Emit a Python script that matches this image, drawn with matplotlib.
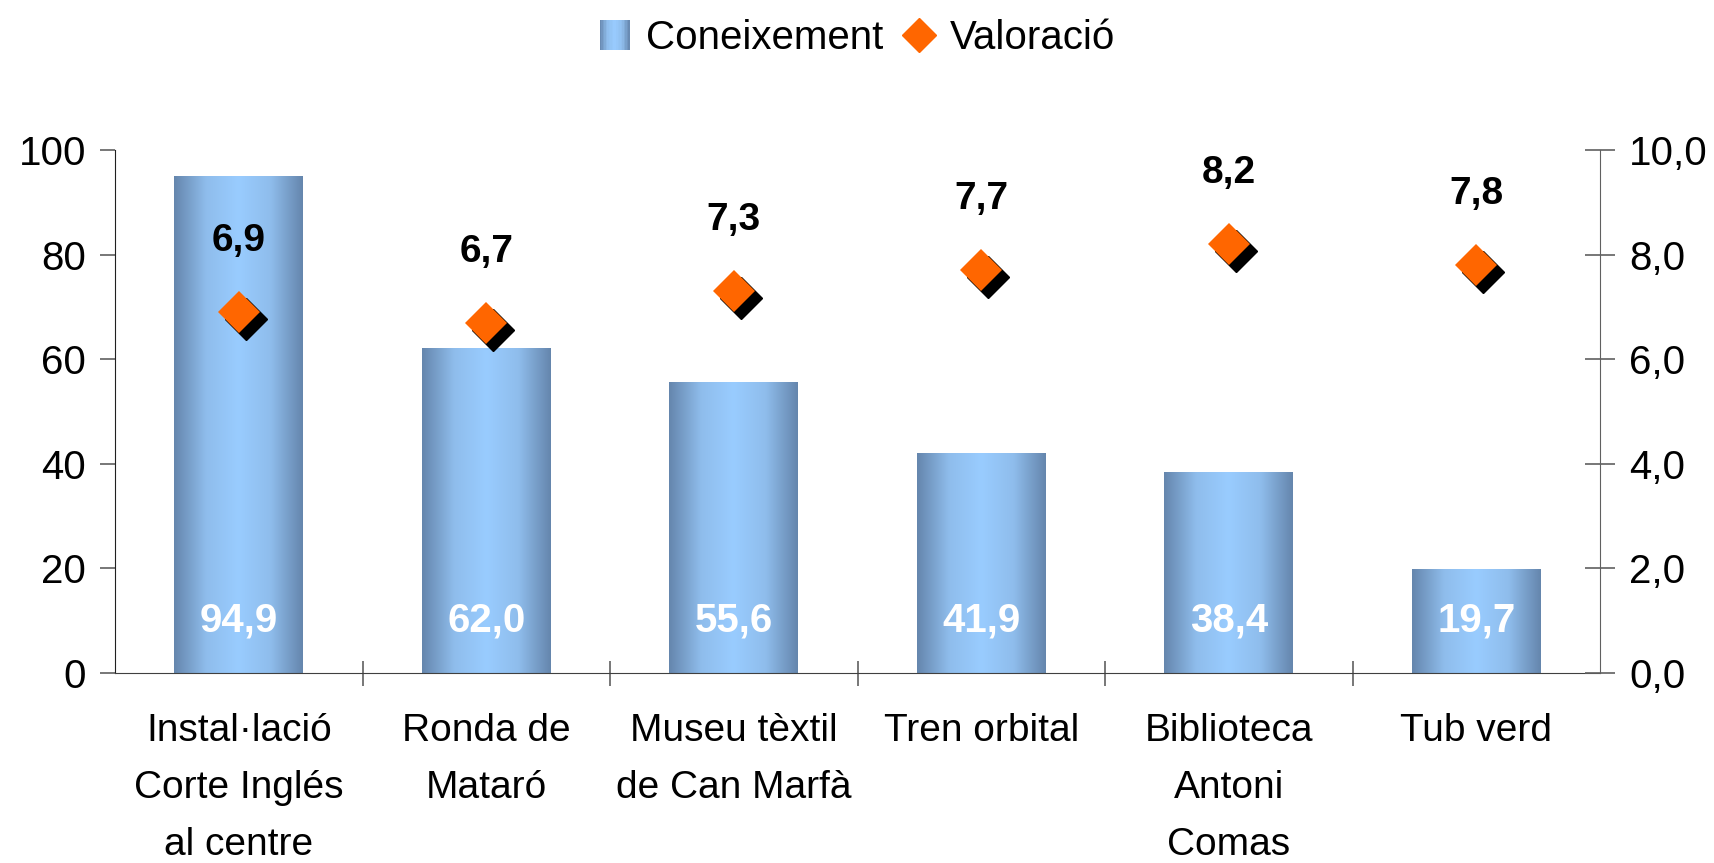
import numpy as np
import matplotlib
matplotlib.use("Agg")
from matplotlib import pyplot as plt
from matplotlib.colors import LinearSegmentedColormap
from matplotlib.lines import Line2D
from matplotlib.patches import Rectangle
from matplotlib.legend_handler import HandlerBase
import matplotlib.transforms as mtransforms

plt.rcParams['font.family'] = ['Liberation Sans', 'DejaVu Sans']

# data
categories = ["Instal·lació\nCorte Inglés\nal centre", "Ronda de\nMataró",
              "Museu tèxtil\nde Can Marfà", "Tren orbital",
              "Biblioteca\nAntoni\nComas", "Tub verd"]
coneixement = [94.9, 62.0, 55.6, 41.9, 38.4, 19.7]
valoracio = [6.9, 6.7, 7.3, 7.7, 8.2, 7.8]
left_ticks = [0, 20, 40, 60, 80, 100]
right_ticks = [0, 2, 4, 6, 8, 10]

def fmt(v):
    return ("%.1f" % v).replace(".", ",")

# bar colour: dark edges, light centre
grad = LinearSegmentedColormap.from_list("bar", ["#6586ad", "#8fbdec", "#99ccff", "#8fbdec", "#6586ad"])

# legend handle drawn as a gradient square made of thin stripes
class GradientHandler(HandlerBase):
    def create_artists(self, legend, orig_handle, xdescent, ydescent, width, height, fontsize, trans):
        n = 20
        arts = []
        for i in range(n):
            r = Rectangle((-xdescent + width * i / n, -ydescent), width / n + 0.3, height,
                          facecolor=grad((i + 0.5) / n), edgecolor="none", transform=trans)
            arts.append(r)
        return arts

fig = plt.figure(figsize=(17.15, 8.63), dpi=100)
ax = fig.add_axes([0.0671, 0.2202, 0.933 - 0.0671, 0.8262 - 0.2202])
ax2 = ax.twinx()

x = np.arange(len(categories))
bar_w = 0.52

g = np.linspace(0, 1, 256).reshape(1, -1)
for xi, h in zip(x, coneixement):
    ax.imshow(g, cmap=grad, aspect="auto", extent=[xi - bar_w / 2, xi + bar_w / 2, 0, h],
              interpolation="bicubic", zorder=2)
    ax.text(xi, 10, fmt(h), ha="center", va="center", color="white",
            fontsize=29, fontweight="bold", zorder=5)
ax.set_xlim(-0.5, len(categories) - 0.5)
ax.set_ylim(0, 100)

# diamonds with a black shadow
ax2.set_ylim(0, 10)
shadow = mtransforms.offset_copy(ax2.transData, fig=fig, x=7, y=-7, units="dots")
ax2.plot(x, valoracio, linestyle="none", marker="D", markersize=21, color="black",
         transform=shadow, zorder=3)
ax2.plot(x, valoracio, linestyle="none", marker="D", markersize=21, color="#ff6600",
         markeredgewidth=0, zorder=4)
for xi, v in zip(x, valoracio):
    ax2.annotate(fmt(v), (xi, v), xytext=(0, 51), textcoords="offset points",
                 ha="center", va="center", fontsize=28, fontweight="bold")

# axes styling
ax.spines["top"].set_visible(False)
ax2.spines["top"].set_visible(False)
ax.spines["left"].set_color("#202020")
ax2.spines["right"].set_color("#606060")
ax.spines["bottom"].set_color("#404040")
ax2.spines["left"].set_visible(False)
ax2.spines["bottom"].set_visible(False)
ax.spines["right"].set_visible(False)

ax.set_yticks(left_ticks)
ax.set_yticklabels([str(t) for t in left_ticks])
ax.tick_params(axis="y", direction="out", length=11, width=1.2, color="#606060",
               labelsize=29, pad=10)
ax2.set_yticks(right_ticks)
ax2.set_yticklabels([fmt(t) for t in right_ticks])
ax2.tick_params(axis="y", direction="inout", length=22, width=1.2, color="#606060",
                labelsize=29, pad=10)

ax.set_xticks(x)
ax.set_xticklabels(categories, fontsize=28, linespacing=1.75)
ax.set_xticks(np.arange(0.5, len(categories) - 1, 1.0), minor=True)
ax.tick_params(axis="x", which="major", length=0, pad=29)
ax.tick_params(axis="x", which="minor", direction="inout", length=18, width=1.2, color="#606060")

# legend
handles = [Rectangle((0, 0), 1, 1),
           Line2D([], [], linestyle="none", marker="D", markersize=17, color="#ff6600")]
fig.legend(handles, ["Coneixement", "Valoració"], loc="upper center",
           bbox_to_anchor=(0.5, 1.02), ncol=2, frameon=False, fontsize=29,
           handler_map={Rectangle: GradientHandler()},
           handlelength=0.75, handleheight=0.75, handletextpad=0.4, columnspacing=0.5)

plt.savefig("out.png", dpi=100)
